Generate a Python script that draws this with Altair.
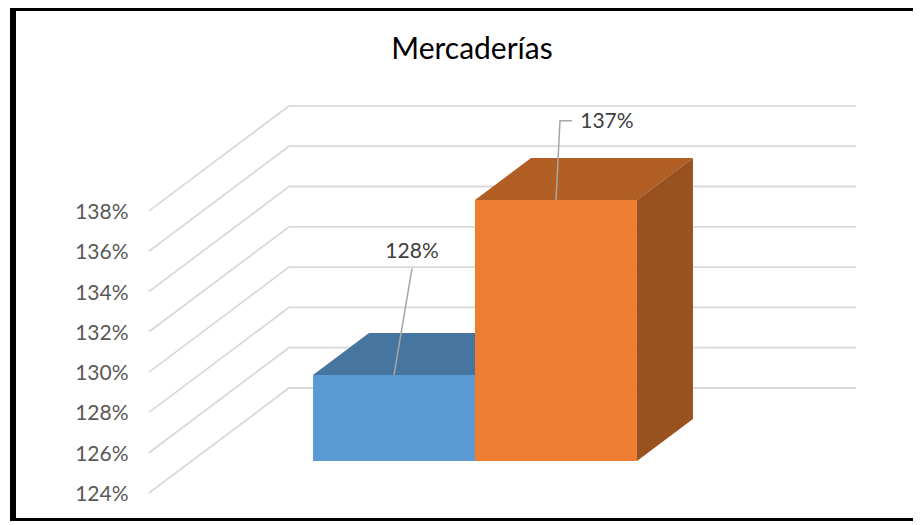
import altair as alt
import pandas as pd

TITLE = "Mercaderías"
CATEGORIES = ["A", "B"]
VALUES = [128.27, 136.95]
BAR_LABELS = ["128%", "137%"]
FRONT = ["#5B9BD5", "#ED7D31"]
TOP = ["#4675A0", "#B15E24"]
SIDE = ["#3B6589", "#9A5120"]
TICKS = [124, 126, 128, 130, 132, 134, 136, 138]

# oblique projection: depth d (0..1) shifts x and y in data units
DEPTH_X = 0.198
DEPTH_Y = 5.21
BASE = 124
BAR_X0 = 0.1716
BAR_W = 0.2291
D0, D1 = 0.305, 0.705

def proj(x, v, d):
    return x + d * DEPTH_X, v + d * DEPTH_Y

xs = alt.Scale(domain=[0, 1], nice=False, zero=False)
ys = alt.Scale(domain=[124, 124 + 387 / 20.15], nice=False, zero=False)
X = alt.X("x:Q", scale=xs, axis=None)
Y = alt.Y("y:Q", scale=ys, title=None, axis=alt.Axis(
    values=TICKS, labelExpr="datum.value + '%'", domain=False, ticks=False, grid=False,
    labelFont="Lato", labelFontSize=21, labelColor="#595959", labelPadding=21, labelOffset=1.5))

# gridlines
grid_rows = []
for t in TICKS:
    for i, (xx, d) in enumerate([(0, 0), (0, 1), (1 - DEPTH_X, 1)]):
        px, py = proj(xx, t, d)
        grid_rows.append({"tick": t, "i": i, "x": px, "y": py})
grid = alt.Chart(pd.DataFrame(grid_rows)).mark_line(color="#D9D9D9", strokeWidth=1.8).encode(
    x=X, y=Y, detail="tick:N", order="i:Q")

layers = [grid]
for k, (cat, v) in enumerate(zip(CATEGORIES, VALUES)):
    xa = BAR_X0 + k * BAR_W
    xb = xa + BAR_W
    # top face
    top = []
    for d in (D0, D1):
        p1, yy = proj(xa, v, d)
        p2, _ = proj(xb, v, d)
        top.append({"x": p1, "x2": p2, "y": yy})
    layers.append(alt.Chart(pd.DataFrame(top)).mark_area(orient="horizontal", color=TOP[k]).encode(
        y=Y, x=X, x2="x2:Q"))
    # side face
    side = []
    for d in (D0, D1):
        p, y1 = proj(xb, BASE, d)
        _, y2 = proj(xb, v, d)
        side.append({"x": p, "y": y1, "y2": y2})
    layers.append(alt.Chart(pd.DataFrame(side)).mark_area(orient="vertical", color=SIDE[k]).encode(
        x=X, y=Y, y2="y2:Q"))
    # front face
    p1, y1 = proj(xa, BASE, D0)
    p2, y2 = proj(xb, v, D0)
    layers.append(alt.Chart(pd.DataFrame([{"x": p1, "x2": p2, "y": y1, "y2": y2}])).mark_rect(color=FRONT[k]).encode(
        x=X, x2="x2:Q", y=Y, y2="y2:Q"))

# leader lines, offsets relative to the bar's top-front centre
LEADERS = [[(0, 0), (0.0255, 5.29)], [(0, 0), (0.0057, 3.93), (0.0226, 3.93)]]
LABEL_OFFSETS = [(0.0255, 6.1), (0.0721, 3.88)]
lead_rows, lab_rows = [], []
for k, v in enumerate(VALUES):
    cx, cy = proj(BAR_X0 + (k + 0.5) * BAR_W, v, D0)
    for i, (ox, oy) in enumerate(LEADERS[k]):
        lead_rows.append({"k": k, "i": i, "x": cx + ox, "y": cy + oy})
    lab_rows.append({"x": cx + LABEL_OFFSETS[k][0], "y": cy + LABEL_OFFSETS[k][1], "t": BAR_LABELS[k]})
layers.append(alt.Chart(pd.DataFrame(lead_rows)).mark_line(color="#A6A6A6", strokeWidth=1.5).encode(
    x=X, y=Y, detail="k:N", order="i:Q"))
layers.append(alt.Chart(pd.DataFrame(lab_rows)).mark_text(
    font="Lato", fontSize=21, color="#404040", align="center", baseline="middle").encode(
    x=X, y=Y, text="t:N"))

# chart title as a text mark
title = alt.Chart(pd.DataFrame({"t": [TITLE]})).mark_text(
    font="Lato", fontSize=30, color="#000000", align="center", baseline="alphabetic").encode(
    x=alt.value(323), y=alt.value(-47), text="t:N")

# picture frame
frame = [
    alt.Chart().mark_rule(color="black", strokeWidth=6).encode(
        x=alt.value(-136), y=alt.value(-98), y2=alt.value(415)),
    alt.Chart().mark_rule(color="black", strokeWidth=3).encode(
        y=alt.value(-96.5), x=alt.value(-139), x2=alt.value(764)),
    alt.Chart().mark_rule(color="black", strokeWidth=3).encode(
        y=alt.value(413.5), x=alt.value(-139), x2=alt.value(764)),
]

chart = alt.layer(*layers, title, *frame).properties(
    width=707, height=387,
    padding={"left": 141, "top": 98, "right": 57, "bottom": 28},
    autosize=alt.AutoSizeParams(type="none"),
    background="white",
).configure_view(stroke=None)

chart.save("out.html", embed_options={"renderer": "svg", "actions": False})
